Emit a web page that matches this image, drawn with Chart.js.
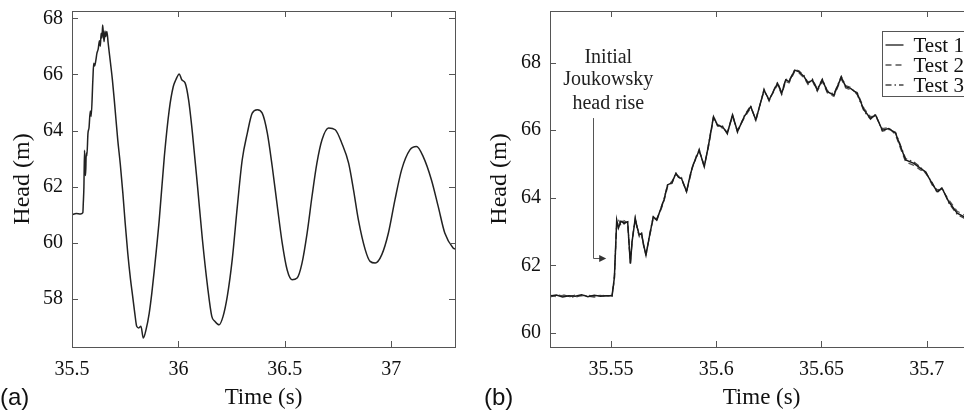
<!DOCTYPE html>
<html>
<head>
<meta charset="utf-8">
<script src="https://cdn.jsdelivr.net/npm/chart.js@4.4.1/dist/chart.umd.min.js"></script>
<style>
  html, body { margin: 0; padding: 0; background: #fff; overflow: hidden; width: 964px; height: 412px; }
  .panel { position: absolute; top: 0; height: 412px; }
  #wrapA { left: 0; width: 472px; }
  #wrapB { left: 484px; width: 500px; }
  .tag { position: absolute; top: 383px; font: 24px "Liberation Sans", Arial, sans-serif; color: #111; }
</style>
</head>
<body>
<div class="panel" id="wrapA"><canvas id="chartA"></canvas></div>
<div class="panel" id="wrapB"><canvas id="chartB"></canvas></div>
<div class="tag" style="left:0">(a)</div>
<div class="tag" style="left:484px">(b)</div>

<script>
// ---- panel (a): long record, one test ----
const timeA = [
  35.500, 35.520, 35.540, 35.551, 35.553, 35.556, 35.559, 35.561, 35.564, 35.567,
  35.570, 35.575, 35.580, 35.586, 35.590, 35.598, 35.602, 35.606, 35.612, 35.617,
  35.623, 35.629, 35.633, 35.637, 35.641, 35.644, 35.648, 35.651, 35.655, 35.658,
  35.664, 35.670, 35.681, 35.690, 35.700, 35.715, 35.727, 35.739, 35.750, 35.762,
  35.775, 35.785, 35.795, 35.804, 35.814, 35.824, 35.835, 35.848, 35.863, 35.875,
  35.887, 35.910, 35.934, 35.957, 35.976, 35.988, 36.004, 36.016, 36.032, 36.048,
  36.066, 36.090, 36.113, 36.137, 36.157, 36.172, 36.191, 36.210, 36.230, 36.253,
  36.277, 36.300, 36.324, 36.347, 36.371, 36.394, 36.418, 36.441, 36.465, 36.488,
  36.511, 36.534, 36.558, 36.581, 36.605, 36.628, 36.651, 36.675, 36.706, 36.737,
  36.768, 36.800, 36.823, 36.846, 36.878, 36.901, 36.925, 36.956, 36.987, 37.018,
  37.049, 37.088, 37.119, 37.150, 37.189, 37.221, 37.252, 37.291, 37.300
];
const headA = [
  61.00, 61.05, 61.03, 61.08, 61.40, 62.00, 63.30, 62.60, 62.40, 63.20,
  63.10, 63.90, 64.10, 64.70, 64.50, 65.80, 66.40, 66.30, 66.50, 66.75,
  66.90, 67.20, 67.00, 67.47, 67.30, 67.76, 67.40, 67.17, 67.55, 67.35,
  67.53, 67.11, 66.40, 65.80, 64.98, 63.67, 62.80, 61.77, 60.70, 59.64,
  58.70, 58.10, 57.50, 57.03, 56.97, 57.03, 56.61, 56.91, 57.50, 58.20,
  59.04, 60.82, 63.08, 64.74, 65.57, 65.81, 66.02, 65.81, 65.69, 65.09,
  63.91, 62.01, 60.11, 58.45, 57.38, 57.20, 57.08, 57.38, 58.10, 59.40,
  61.30, 62.96, 63.91, 64.62, 64.74, 64.62, 63.91, 62.72, 61.30, 59.99,
  59.04, 58.69, 58.75, 59.28, 60.35, 61.66, 62.84, 63.67, 64.09, 64.03,
  63.55, 62.84, 61.89, 60.82, 59.76, 59.34, 59.28, 59.58, 60.35, 61.54,
  62.60, 63.31, 63.43, 63.08, 62.25, 61.30, 60.35, 59.82, 59.78
];
const xTicksA = [35.5, 36, 36.5, 37];
const yTicksA = [58, 60, 62, 64, 66, 68];

// ---- panel (b): first wave, three tests ----
const timeB = [
  35.521, 35.524, 35.527, 35.530, 35.533, 35.536, 35.539, 35.542, 35.545, 35.548,
  35.5505, 35.5516, 35.5527, 35.5535, 35.5547, 35.5562, 35.5579, 35.5586, 35.5592, 35.5600,
  35.5615, 35.5625, 35.5634, 35.5645, 35.5655, 35.5666, 35.5682, 35.5701, 35.5717, 35.5737,
  35.5752, 35.5769, 35.5790, 35.5808, 35.5822, 35.5835, 35.5859, 35.5872, 35.5887, 35.5905,
  35.5919, 35.5943, 35.5962, 35.5987, 35.6006, 35.6030, 35.6053, 35.6077, 35.6101, 35.6133,
  35.6164, 35.6188, 35.6227, 35.6251, 35.6275, 35.6291, 35.6311, 35.6330, 35.6346, 35.6373,
  35.6393, 35.6417, 35.6436, 35.6457, 35.6480, 35.6504, 35.6528, 35.6559, 35.6594, 35.6615,
  35.6638, 35.6670, 35.6702, 35.6733, 35.6757, 35.6789, 35.6820, 35.6852, 35.6876, 35.6900,
  35.6939, 35.6971, 35.6994, 35.7026, 35.7050, 35.7073, 35.7105, 35.7145, 35.7176, 35.7200
];
const test1 = [
  61.09, 61.12, 61.06, 61.10, 61.08, 61.13, 61.07, 61.11, 61.08, 61.10,
  61.10, 61.64, 63.34, 63.10, 63.30, 63.25, 63.29, 62.60, 62.05, 62.70,
  63.39, 63.10, 62.90, 62.94, 62.60, 62.30, 62.84, 63.44, 63.34, 63.68,
  63.95, 64.38, 64.45, 64.72, 64.60, 64.57, 64.18, 64.55, 64.92, 65.20,
  65.41, 64.92, 65.51, 66.40, 66.15, 66.10, 65.91, 66.45, 65.96, 66.40,
  66.70, 66.30, 67.19, 66.89, 67.19, 67.39, 67.09, 67.49, 67.44, 67.78,
  67.73, 67.59, 67.39, 67.49, 67.19, 67.49, 67.14, 67.04, 67.57, 67.29,
  67.24, 67.09, 66.60, 66.35, 66.45, 66.00, 66.05, 65.91, 65.51, 65.12,
  65.02, 64.87, 64.77, 64.42, 64.18, 64.28, 63.88, 63.54, 63.44, 63.30
];
const test2 = [
  61.12, 61.07, 61.11, 61.06, 61.12, 61.09, 61.12, 61.07, 61.11, 61.07,
  61.12, 61.55, 63.25, 63.35, 63.18, 63.32, 63.25, 62.55, 62.10, 62.75,
  63.35, 63.05, 62.85, 62.98, 62.55, 62.35, 62.80, 63.40, 63.38, 63.64,
  63.90, 64.33, 64.50, 64.68, 64.64, 64.52, 64.22, 64.50, 64.88, 65.24,
  65.37, 64.97, 65.47, 66.35, 66.20, 66.05, 65.95, 66.40, 66.00, 66.36,
  66.66, 66.34, 67.15, 66.93, 67.15, 67.35, 67.05, 67.45, 67.40, 67.74,
  67.69, 67.55, 67.35, 67.45, 67.15, 67.44, 67.10, 67.00, 67.52, 67.25,
  67.20, 67.12, 66.65, 66.40, 66.42, 66.05, 66.08, 65.86, 65.45, 65.06,
  64.96, 64.82, 64.80, 64.37, 64.24, 64.25, 63.94, 63.60, 63.50, 63.36
];
const test3 = [
  61.06, 61.10, 61.13, 61.08, 61.05, 61.11, 61.09, 61.06, 61.12, 61.09,
  61.08, 61.70, 63.28, 63.20, 63.36, 63.22, 63.31, 62.65, 62.02, 62.68,
  63.42, 63.12, 62.93, 62.90, 62.62, 62.28, 62.88, 63.46, 63.30, 63.70,
  63.98, 64.40, 64.42, 64.75, 64.58, 64.60, 64.15, 64.58, 64.95, 65.17,
  65.44, 64.90, 65.55, 66.42, 66.12, 66.13, 65.88, 66.48, 65.93, 66.43,
  66.73, 66.27, 67.22, 66.86, 67.22, 67.42, 67.12, 67.52, 67.47, 67.80,
  67.76, 67.62, 67.42, 67.52, 67.22, 67.52, 67.17, 67.07, 67.60, 67.32,
  67.27, 67.05, 66.56, 66.32, 66.48, 65.97, 66.02, 65.94, 65.55, 65.16,
  65.06, 64.91, 64.73, 64.46, 64.14, 64.31, 63.84, 63.50, 63.40, 63.26
];
const testLabels = ['Test 1', 'Test 2', 'Test 3'];
const xTicksB = [35.55, 35.6, 35.65, 35.7];
const yTicksB = [60, 62, 64, 66, 68];

const noteLines = ['Initial', 'Joukowsky', 'head rise'];

Chart.defaults.font.family = '"Liberation Serif", "Times New Roman", serif';
Chart.defaults.color = '#111';

const pts = (xs, ys) => xs.map((t, i) => ({ x: t, y: ys[i] }));

// box round the plot and inward ticks on all four sides
const frameTicks = {
  id: 'frameTicks',
  afterDatasetsDraw(chart) {
    const { ctx, chartArea: a, scales: { x, y } } = chart;
    ctx.save();
    ctx.strokeStyle = '#555';
    ctx.lineWidth = 1;
    ctx.strokeRect(Math.round(a.left) + 0.5, Math.round(a.top) + 0.5,
      Math.round(a.right - a.left), Math.round(a.bottom - a.top));
    ctx.beginPath();
    x.ticks.forEach(t => {
      const px = Math.round(x.getPixelForValue(t.value)) + 0.5;
      ctx.moveTo(px, a.bottom); ctx.lineTo(px, a.bottom - 6);
      ctx.moveTo(px, a.top); ctx.lineTo(px, a.top + 6);
    });
    y.ticks.forEach(t => {
      const py = Math.round(y.getPixelForValue(t.value)) + 0.5;
      ctx.moveTo(a.left, py); ctx.lineTo(a.left + 6, py);
      ctx.moveTo(a.right, py); ctx.lineTo(a.right - 6, py);
    });
    ctx.stroke();
    ctx.restore();
  }
};

// text note and bent arrow in panel (b)
const joukowskyNote = {
  id: 'joukowskyNote',
  afterDatasetsDraw(chart) {
    const { ctx, scales: { x, y } } = chart;
    ctx.save();
    ctx.fillStyle = '#222';
    ctx.font = '20px "Liberation Serif", "Times New Roman", serif';
    ctx.textAlign = 'center';
    ctx.textBaseline = 'middle';
    const tx = x.getPixelForValue(35.5487);
    [68.14, 67.49, 66.77].forEach((v, i) => ctx.fillText(noteLines[i], tx, y.getPixelForValue(v)));
    const ax = Math.round(x.getPixelForValue(35.5413)) + 0.5;
    const ay0 = y.getPixelForValue(66.36);
    const ay1 = Math.round(y.getPixelForValue(62.21)) + 0.5;
    const ax1 = x.getPixelForValue(35.5477);
    ctx.strokeStyle = '#555';
    ctx.lineWidth = 1;
    ctx.beginPath();
    ctx.moveTo(ax, ay0); ctx.lineTo(ax, ay1); ctx.lineTo(ax1 - 6, ay1);
    ctx.stroke();
    ctx.fillStyle = '#333';
    ctx.beginPath();
    ctx.moveTo(ax1, ay1); ctx.lineTo(ax1 - 7, ay1 - 3.5); ctx.lineTo(ax1 - 7, ay1 + 3.5);
    ctx.closePath(); ctx.fill();
    ctx.restore();
  }
};

// boxed legend in the top right corner of panel (b), running past the page edge
const boxLegend = {
  id: 'boxLegend',
  afterDraw(chart) {
    const { ctx } = chart;
    const left = 398.5, top = 31.5, right = 495.5, rowH = 20;
    ctx.save();
    ctx.fillStyle = '#fff';
    ctx.fillRect(left, top, right - left, 65);
    ctx.strokeStyle = '#555';
    ctx.lineWidth = 1;
    ctx.strokeRect(left, top, right - left, 65);
    ctx.font = '21px "Liberation Serif", "Times New Roman", serif';
    ctx.textBaseline = 'middle';
    chart.data.datasets.forEach((ds, i) => {
      const cy = top + 13.5 + i * rowH;
      ctx.strokeStyle = ds.borderColor;
      ctx.lineWidth = 1.3;
      ctx.setLineDash(ds.borderDash || []);
      ctx.beginPath(); ctx.moveTo(left + 3, cy); ctx.lineTo(left + 21, cy); ctx.stroke();
      ctx.setLineDash([]);
      ctx.fillStyle = '#111';
      ctx.fillText(ds.label, left + 31, cy + 1);
    });
    ctx.restore();
  }
};

function axes(xMin, xMax, xTicks, yMin, yMax, yTicks, yWidth, yTitlePad) {
  return {
    x: {
      type: 'linear', min: xMin, max: xMax,
      afterBuildTicks: s => { s.ticks = xTicks.map(v => ({ value: v })); },
      afterFit: s => { s.height = 65; s.paddingLeft = 0; s.paddingRight = 0; },
      grid: { display: false, drawTicks: false },
      border: { display: false },
      ticks: { padding: 11, font: { size: 20 }, maxRotation: 0, autoSkip: false, callback: v => String(v) },
      title: { display: true, text: 'Time (s)', font: { size: 23 }, padding: 0 }
    },
    y: {
      type: 'linear', min: yMin, max: yMax,
      afterBuildTicks: s => { s.ticks = yTicks.map(v => ({ value: v })); },
      afterFit: s => { s.width = yWidth; s.paddingTop = 0; s.paddingBottom = 0; },
      grid: { display: false, drawTicks: false },
      border: { display: false },
      ticks: { padding: 9, font: { size: 20 }, autoSkip: false, callback: v => String(v) },
      title: { display: true, text: 'Head (m)', font: { size: 24 }, padding: { top: yTitlePad, bottom: 0 } }
    }
  };
}

const common = {
  responsive: true,
  maintainAspectRatio: false,
  animation: false,
  events: [],
  plugins: { legend: { display: false }, tooltip: { enabled: false } }
};

new Chart(document.getElementById('chartA'), {
  type: 'line',
  data: {
    datasets: [{
      label: 'Test',
      data: pts(timeA, headA),
      borderColor: '#222', borderWidth: 1.5, pointRadius: 0,
      cubicInterpolationMode: 'monotone'
    }]
  },
  options: {
    ...common,
    layout: { padding: { top: 11, right: 17, left: 0, bottom: 0 } },
    scales: axes(35.5, 37.3, xTicksA, 56.29, 68.26, yTicksA, 72, 8)
  },
  plugins: [frameTicks]
});

new Chart(document.getElementById('chartB'), {
  type: 'line',
  data: {
    datasets: [
      { label: testLabels[0], data: pts(timeB, test1), borderColor: '#1a1a1a', borderWidth: 1.5, pointRadius: 0, tension: 0 },
      { label: testLabels[1], data: pts(timeB, test2), borderColor: '#555', borderWidth: 1.2, borderDash: [6, 4], pointRadius: 0, tension: 0 },
      { label: testLabels[2], data: pts(timeB, test3), borderColor: '#444', borderWidth: 1.2, borderDash: [6, 3, 1.5, 3], pointRadius: 0, tension: 0 }
    ]
  },
  options: {
    ...common,
    layout: { padding: { top: 11, right: 11, left: 0, bottom: 0 } },
    scales: axes(35.521, 35.722, xTicksB, 59.58, 69.53, yTicksB, 66, 1)
  },
  plugins: [frameTicks, joukowskyNote, boxLegend]
});
</script>
</body>
</html>
